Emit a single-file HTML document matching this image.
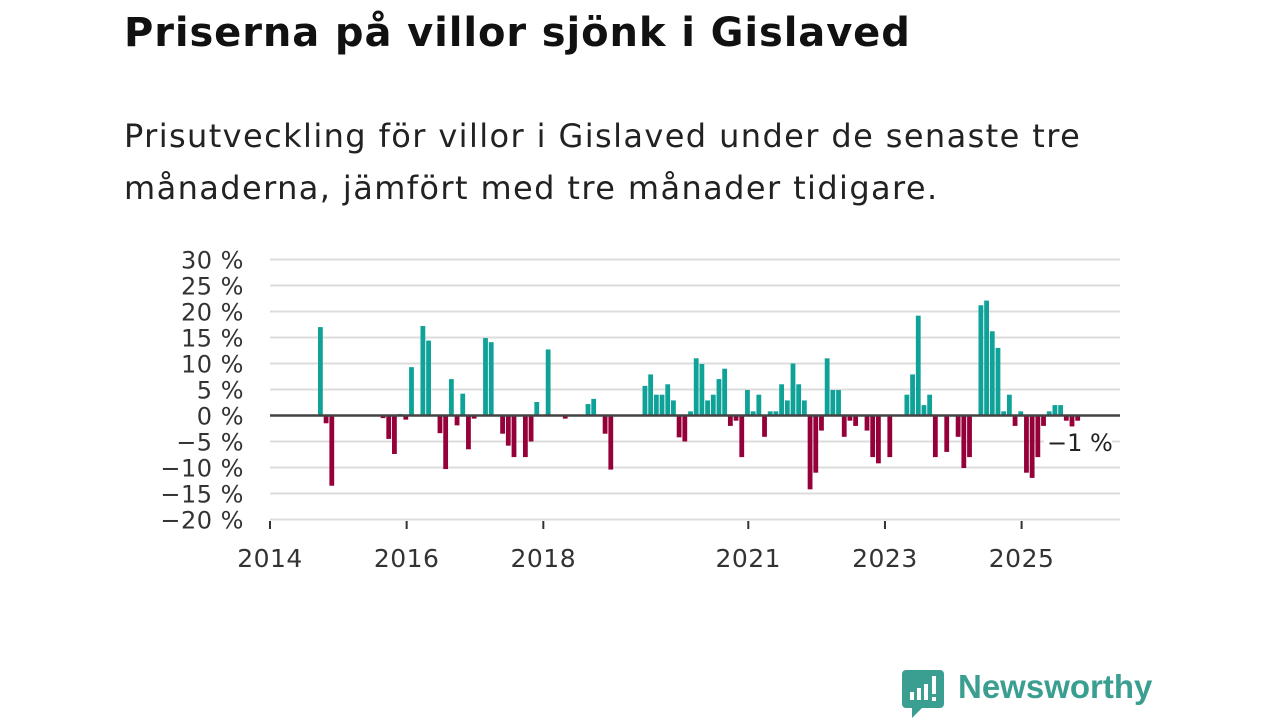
<!DOCTYPE html>
<html><head><meta charset="utf-8">
<style>
body{margin:0;width:1280px;height:720px;background:#fff;overflow:hidden;font-family:"DejaVu Sans","Liberation Sans",sans-serif;position:relative}
#title{position:absolute;left:124px;top:10px;font-size:40px;font-weight:bold;color:#111;margin:0;letter-spacing:0.9px;white-space:nowrap}
#sub{position:absolute;left:124px;top:110px;font-size:32px;line-height:52px;color:#222;margin:0;width:1000px;letter-spacing:1.4px}
svg{position:absolute;left:0;top:0}
#logo{position:absolute;left:902px;top:670px}
#logotext{position:absolute;left:958px;top:668px;font-family:"Liberation Sans",sans-serif;font-size:33px;font-weight:bold;color:#3a9e90}
</style></head><body>
<h1 id="title">Priserna på villor sjönk i Gislaved</h1>
<p id="sub">Prisutveckling för villor i Gislaved under de senaste tre månaderna, jämfört med tre månader tidigare.</p>
<svg id="chart" width="1280" height="720"></svg>
<svg id="logo" width="44" height="50">
<path d="M4 0h34a4 4 0 0 1 4 4v30a4 4 0 0 1-4 4H20l-10 10v-10H4a4 4 0 0 1-4-4V4a4 4 0 0 1 4-4z" fill="#3a9e90"/>
<rect x="8" y="22" width="4" height="8" fill="#fff"/><rect x="15" y="18" width="4" height="12" fill="#fff"/><rect x="22" y="14" width="4" height="16" fill="#fff"/><rect x="30" y="6" width="4" height="18" fill="#fff"/><rect x="30" y="27" width="4" height="4" fill="#fff"/>
</svg>
<div id="logotext">Newsworthy</div>
<script>
const monthIndex=[8,9,10,19,20,21,22,23,24,26,27,29,30,31,32,33,34,35,37,38,40,41,42,44,45,46,48,51,55,56,58,59,65,66,67,68,69,70,71,72,73,74,75,76,77,78,79,80,81,82,83,84,85,86,87,88,89,90,91,92,93,94,95,96,97,98,99,100,101,102,104,105,106,108,111,112,113,114,115,116,118,120,121,122,124,125,126,127,128,129,130,131,132,133,134,135,136,137,138,139,140,141];
const values=[17,-1.5,-13.5,-0.5,-4.5,-7.4,0.3,-0.8,9.3,17.2,14.4,-3.4,-10.3,7,-1.9,4.2,-6.5,-0.6,14.9,14.1,-3.5,-5.8,-8,-8,-5,2.6,12.7,-0.6,2.2,3.2,-3.5,-10.4,5.7,7.9,4,4,6,2.9,-4.2,-5,0.8,11,9.9,2.9,4,7,9,-2,-1,-8,4.9,0.8,4,-4.1,0.8,0.8,6,2.9,10,6,2.9,-14.2,-11,-2.9,11,4.9,4.9,-4.1,-1,-2,-2.9,-8,-9.2,-8,4,7.9,19.2,2,4,-8,-7,-4.1,-10.1,-8,21.2,22.1,16.2,13,0.8,4,-2,0.8,-11,-12,-8,-2,0.8,2,2,-1,-2.1,-1];
const yTicks=[30,25,20,15,10,5,0,-5,-10,-15,-20];
const yTickLabels=["30 %","25 %","20 %","15 %","10 %","5 %","0 %","−5 %","−10 %","−15 %","−20 %"];
const xTickYears=[2014,2016,2018,2021,2023,2025];
const lastLabel="−1 %";
const NS="http://www.w3.org/2000/svg";
const svg=document.getElementById('chart');
const X0=270,X1=1120,MW=5.694;
const FF="DejaVu Sans, Liberation Sans, sans-serif";
function xScale(m){return X0+m*MW;}
function yScale(v){return 415.5-v*5.2;}
function mk(tag,attrs){const e=document.createElementNS(NS,tag);for(const k in attrs)e.setAttribute(k,attrs[k]);svg.appendChild(e);return e;}
yTicks.forEach((t,i)=>{
  if(t!==0){const g=mk('line',{x1:X0,x2:X1,y1:yScale(t),y2:yScale(t),stroke:'#dcdcdc','stroke-width':2});
  
  }
  const tx=mk('text',{x:244,y:yScale(t)+9,'text-anchor':'end','font-size':24,fill:'#333','font-family':FF,'letter-spacing':0.5});
  tx.textContent=yTickLabels[i];
  
  
});
values.forEach((v,i)=>{
  const cx=xScale(monthIndex[i]+0.85);
  const y=Math.min(yScale(v),yScale(0)),h=Math.abs(yScale(v)-yScale(0));
  const r=mk('rect',{x:cx-2.4,y:y,width:4.8,height:Math.max(h,0.8),fill:v>=0?'#0fa298':'#95003a'});
  
  
});
const z=mk('line',{x1:X0,x2:X1,y1:yScale(0),y2:yScale(0),stroke:'#444','stroke-width':2.5});


xTickYears.forEach(yr=>{
  const x=xScale((yr-2014)*12);
  const t=mk('line',{x1:x,x2:x,y1:521,y2:529,stroke:'#333','stroke-width':2});
  
  
  const tx=mk('text',{x:x,y:567,'text-anchor':'middle','font-size':25,fill:'#333','font-family':FF,'letter-spacing':0.5});
  tx.textContent=yr;
  
  
});
const bg=mk('rect',{x:1044,y:428,width:68,height:28,fill:'#fff'});


const lv=mk('text',{x:1047,y:451,'font-size':24,fill:'#222','font-family':FF});
lv.textContent=lastLabel;


</script>
</body></html>
